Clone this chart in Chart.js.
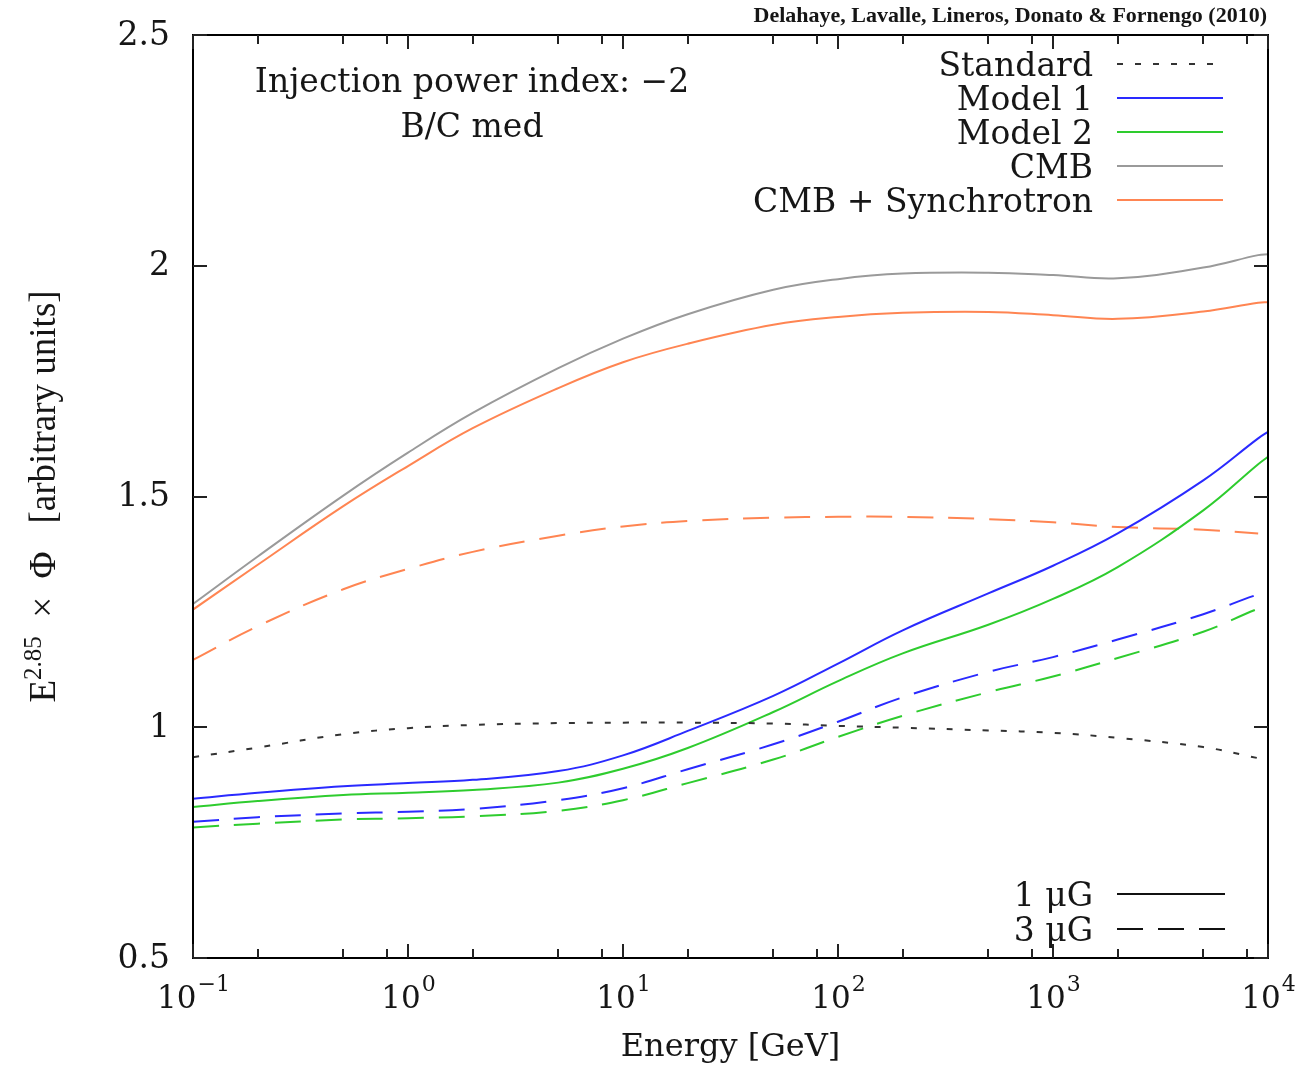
<!DOCTYPE html>
<html>
<head>
<meta charset="utf-8">
<title>Positron flux, injection index -2</title>
<script src="https://cdn.jsdelivr.net/npm/chart.js@4.4.1/dist/chart.umd.min.js"></script>
<style>
  body { margin: 0; background: #fff; overflow: hidden; }
  canvas { display: block; }
</style>
</head>
<body>
<canvas id="fluxChart" width="1303" height="1065"></canvas>
<script>
// energies in GeV, shared by every curve
const energy = [0.1, 0.2, 0.5, 1, 2, 5, 10, 20, 50, 100, 200, 500, 1000, 2000, 5000, 9000, 10000];

// E^2.85 x flux, arbitrary units
const standard   = [0.935, 0.956, 0.985, 0.998, 1.005, 1.009, 1.010, 1.010, 1.008, 1.003, 0.999, 0.993, 0.988, 0.977, 0.957, 0.933, null];
const model1B1   = [0.845, 0.858, 0.872, 0.879, 0.886, 0.905, 0.939, 0.992, 1.068, 1.138, 1.210, 1.290, 1.350, 1.420, 1.535, 1.626, 1.640];
const model2B1   = [0.827, 0.840, 0.853, 0.858, 0.864, 0.880, 0.910, 0.955, 1.033, 1.100, 1.160, 1.222, 1.278, 1.347, 1.470, 1.570, 1.586];
const cmbOnly    = [1.267, 1.370, 1.502, 1.595, 1.681, 1.778, 1.842, 1.895, 1.948, 1.971, 1.983, 1.985, 1.980, 1.973, 1.996, 2.023, 2.025];
const cmbSyncB1  = [1.255, 1.352, 1.479, 1.566, 1.648, 1.735, 1.791, 1.831, 1.872, 1.889, 1.898, 1.900, 1.893, 1.885, 1.901, 1.920, 1.921];
const model1B3   = [0.795, 0.805, 0.813, 0.817, 0.823, 0.842, 0.868, 0.909, 0.963, 1.012, 1.065, 1.120, 1.152, 1.190, 1.245, 1.288, 1.291];
const model2B3   = [0.783, 0.791, 0.800, 0.803, 0.807, 0.819, 0.842, 0.879, 0.930, 0.979, 1.025, 1.076, 1.110, 1.150, 1.207, 1.257, 1.261];
const cmbSyncB3  = [1.146, 1.219, 1.299, 1.343, 1.380, 1.415, 1.435, 1.447, 1.454, 1.456, 1.456, 1.451, 1.444, 1.434, 1.428, 1.420, null];

// axis ticks
const yTicks = [0.5, 1, 1.5, 2, 2.5];
const xMajor = [0.1, 1, 10, 100, 1000, 10000];
const xMinor = [0.2, 0.5, 0.8, 2, 5, 8, 20, 50, 80, 200, 500, 800, 2000, 5000, 8000];

// magnetic field key (line style only)
const fieldLabels = ["1 \u03bcG", "3 \u03bcG"];

const BLUE = "#2a2aff";
const GREEN = "#2ecc2e";
const GREY = "#9a9a9a";
const ORANGE = "#ff8552";
const DOTS = [6, 12];
const DASHES = [26, 15];

function points(values) {
  return energy.map((e, i) => ({ x: e, y: values[i] }));
}

function series(label, values, color, dash, inKey) {
  return {
    label: label,
    data: points(values),
    borderColor: color,
    borderDash: dash,
    borderWidth: 2,
    pointRadius: 0,
    fill: false,
    tension: 0.4,
    inKey: inKey
  };
}

const datasets = [
  series("Standard", standard, "#333333", DOTS, true),
  series("Model 1", model1B1, BLUE, [], true),
  series("Model 2", model2B1, GREEN, [], true),
  series("CMB", cmbOnly, GREY, [], true),
  series("CMB + Synchrotron", cmbSyncB1, ORANGE, [], true),
  series("Model 1 (3 \u03bcG)", model1B3, BLUE, DASHES, false),
  series("Model 2 (3 \u03bcG)", model2B3, GREEN, DASHES, false),
  series("CMB + Synchrotron (3 \u03bcG)", cmbSyncB3, ORANGE, DASHES, false)
];

const serif = "'DejaVu Serif', serif";
const narrowSerif = "'Liberation Serif', serif";
const ink = "#161616";

// frame, inward ticks, tick labels, titles and keys
const decorations = {
  id: "decorations",
  afterDraw(chart) {
    const ctx = chart.ctx;
    const a = chart.chartArea;
    const xs = chart.scales.x;
    const ys = chart.scales.y;

    ctx.save();
    ctx.strokeStyle = "#000";
    ctx.lineWidth = 2;
    ctx.setLineDash([]);
    ctx.strokeRect(a.left, a.top, a.right - a.left, a.bottom - a.top);

    ctx.strokeStyle = "#222";
    function xTick(v, len) {
      const px = Math.round(xs.getPixelForValue(v));
      ctx.beginPath();
      ctx.moveTo(px, a.bottom); ctx.lineTo(px, a.bottom - len);
      ctx.moveTo(px, a.top); ctx.lineTo(px, a.top + len);
      ctx.stroke();
    }
    xMajor.forEach(v => xTick(v, 14));
    xMinor.forEach(v => xTick(v, 9));
    yTicks.forEach(v => {
      const py = Math.round(ys.getPixelForValue(v));
      ctx.beginPath();
      ctx.moveTo(a.left, py); ctx.lineTo(a.left + 14, py);
      ctx.moveTo(a.right, py); ctx.lineTo(a.right - 14, py);
      ctx.stroke();
    });

    ctx.fillStyle = ink;

    // y tick labels
    ctx.font = "33px " + serif;
    ctx.textAlign = "right";
    ctx.textBaseline = "middle";
    yTicks.forEach(v => {
      ctx.fillText(String(v), a.left - 23, ys.getPixelForValue(v) + 1);
    });

    // x tick labels as powers of ten
    ctx.textAlign = "left";
    ctx.textBaseline = "alphabetic";
    xMajor.forEach(v => {
      const exp = String(Math.round(Math.log10(v))).replace("-", "\u2212");
      ctx.font = "31px " + serif;
      const wBase = ctx.measureText("10").width;
      ctx.font = "22px " + serif;
      const wExp = ctx.measureText(exp).width;
      const start = xs.getPixelForValue(v) - (wBase + wExp) / 2;
      ctx.font = "31px " + serif;
      ctx.fillText("10", start, 1008);
      ctx.font = "22px " + serif;
      ctx.fillText(exp, start + wBase + 1, 991);
    });

    // x title
    ctx.font = "32px " + serif;
    ctx.textAlign = "center";
    ctx.fillText("Energy [GeV]", (a.left + a.right) / 2, 1056);

    // y title, rotated
    ctx.save();
    ctx.translate(55, (a.top + a.bottom) / 2);
    ctx.rotate(-Math.PI / 2);
    ctx.textAlign = "left";
    const big = "37px " + narrowSerif;
    const small = "25px " + narrowSerif;
    const rest = "  \u00d7  \u03a6   [arbitrary units]";
    ctx.font = big; const wE = ctx.measureText("E").width;
    const wRest = ctx.measureText(rest).width;
    ctx.font = small; const wSup = ctx.measureText("2.85").width;
    let cx = -(wE + wSup + wRest) / 2;
    ctx.font = big; ctx.fillText("E", cx, 0); cx += wE;
    ctx.font = small; ctx.fillText("2.85", cx, -14); cx += wSup;
    ctx.font = big; ctx.fillText(rest, cx, 0);
    ctx.restore();

    // credit line above the frame
    ctx.font = "bold 22px " + narrowSerif;
    ctx.textAlign = "right";
    ctx.fillText("Delahaye, Lavalle, Lineros, Donato & Fornengo (2010)", a.right - 1, 22);

    // annotation
    ctx.font = "33px " + serif;
    ctx.textAlign = "center";
    ctx.fillText("Injection power index: \u22122", 472, 92);
    ctx.fillText("B/C med", 472, 137);

    // model key, top right
    ctx.textAlign = "right";
    let rowY = 64;
    chart.data.datasets.filter(d => d.inKey).forEach(d => {
      ctx.fillStyle = ink;
      ctx.fillText(d.label, 1093, rowY + 12);
      ctx.strokeStyle = d.borderColor;
      ctx.lineWidth = 2;
      ctx.setLineDash(d.borderDash);
      ctx.beginPath();
      ctx.moveTo(1117, rowY); ctx.lineTo(1223, rowY);
      ctx.stroke();
      rowY += 34;
    });

    // field strength key, bottom right
    rowY = 894;
    fieldLabels.forEach((label, i) => {
      ctx.fillStyle = ink;
      ctx.fillText(label, 1093, rowY + 12);
      ctx.strokeStyle = "#111";
      ctx.setLineDash(i === 0 ? [] : DASHES);
      ctx.beginPath();
      ctx.moveTo(1117, rowY); ctx.lineTo(1225, rowY);
      ctx.stroke();
      rowY += 35;
    });

    ctx.restore();
  }
};

const ctx = document.getElementById("fluxChart").getContext("2d");
const fluxChart = new Chart(ctx, {
  type: "line",
  data: { datasets: datasets },
  options: {
    responsive: false,
    animation: false,
    devicePixelRatio: 1,
    layout: { padding: { left: 193, right: 35, top: 35, bottom: 107 } },
    plugins: {
      legend: { display: false },
      tooltip: { enabled: false }
    },
    scales: {
      x: { type: "logarithmic", min: 0.1, max: 10000, display: false },
      y: { type: "linear", min: 0.5, max: 2.5, display: false }
    }
  },
  plugins: [decorations]
});
</script>
</body>
</html>
